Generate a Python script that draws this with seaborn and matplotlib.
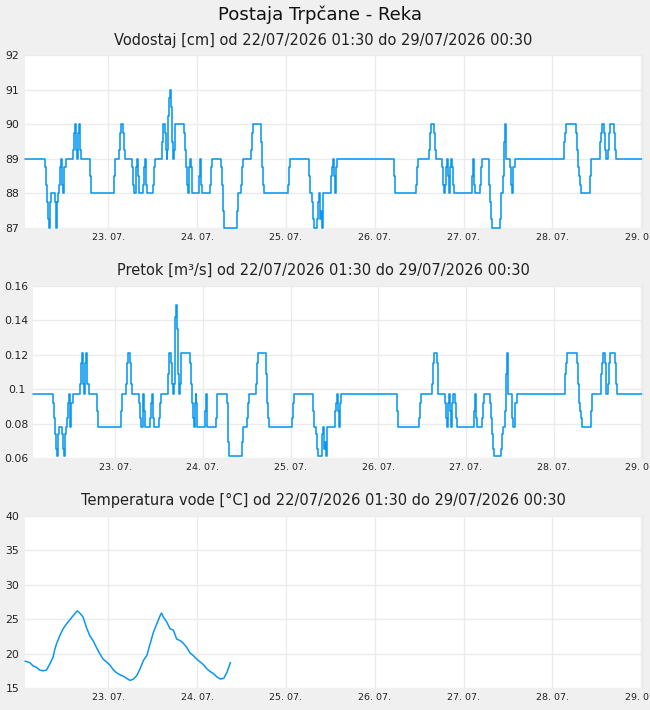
import numpy as np
import pandas as pd
import matplotlib
matplotlib.use("Agg")
import matplotlib.pyplot as plt
import matplotlib.dates as mdates
from matplotlib.ticker import FixedLocator, FuncFormatter
import seaborn as sns

# ---------------- data ----------------
start = pd.Timestamp("2026-07-22 01:30")
end = pd.Timestamp("2026-07-29 00:30")

# water level change points: hours after start, level in cm
level_hours = [0, 5.5, 5.75, 6.0, 6.25, 6.5, 6.75, 7.0, 8.0, 8.25, 8.5, 8.75, 9.0, 9.25, 9.5, 9.75,
               10.0, 10.25, 10.5, 11.0, 13.0, 13.25, 13.5, 13.75, 14.0, 14.25, 14.5, 14.75, 15.25,
               17.5, 17.75, 24.0, 24.25, 25.5, 25.75, 26.0, 26.5, 26.75, 27.0, 29.0, 29.25, 29.5,
               30.0, 30.25, 30.5, 30.75, 32.0, 32.25, 32.5, 32.75, 33.0, 34.5, 34.75, 35.0, 37.0,
               37.25, 37.75, 38.0, 38.25, 38.5, 38.75, 39.0, 39.25, 39.5, 39.75, 40.0, 40.25, 40.5,
               43.0, 43.25, 43.5, 43.75, 44.0, 44.25, 44.5, 44.75, 45.0, 47.0, 47.25, 47.5, 47.75,
               50.0, 50.25, 50.5, 53.0, 53.25, 53.5, 53.75, 57.25, 57.5, 58.5, 58.75, 59.0, 61.0,
               61.25, 61.5, 63.75, 64.0, 64.25, 64.5, 71.0, 71.25, 71.5, 76.75, 77.0, 77.5, 77.75,
               78.0, 79.0, 79.25, 79.5, 79.75, 80.0, 80.25, 80.5, 82.75, 83.0, 83.25, 83.5, 83.75,
               84.0, 84.25, 99.75, 100.0, 105.75, 106.0, 106.25, 109.25, 109.5, 109.75, 110.5,
               110.75, 111.0, 112.75, 113.0, 113.25, 113.5, 113.75, 114.0, 114.25, 114.5, 114.75,
               115.0, 115.5, 115.75, 116.0, 120.75, 121.0, 121.25, 121.5, 123.0, 123.25, 123.5,
               125.25, 125.5, 125.75, 126.0, 126.25, 128.25, 128.5, 128.75, 129.25, 129.5, 129.75,
               130.0, 131.0, 131.25, 131.5, 132.0, 132.5, 145.75, 146.0, 146.25, 149.0, 149.25,
               149.5, 149.75, 150.0, 150.25, 152.75, 153.0, 155.5, 155.75, 156.0, 156.5, 156.75,
               157.0, 157.5, 157.75, 158.0, 159.25, 159.5, 159.75, 167.0]
level_cm = [89, 88.75, 88.25, 87.75, 87.25, 87, 87.75, 88, 87.75, 87.25, 87, 87.75, 88, 88.25, 88.75, 89,
            88.25, 88, 88.75, 89, 89.25, 89.75, 90, 89.25, 89, 89.75, 90, 89.25, 89,
            88.5, 88, 88.5, 89, 89.25, 89.75, 90, 89.75, 89.25, 89, 88.75, 88.25, 88,
            88.75, 89, 88.5, 88, 88.25, 88.75, 89, 88.25, 88, 88.25, 88.75, 89, 89.5,
            90, 89.75, 89.25, 89, 89.25, 90.25, 90.75, 91, 90.5, 89.5, 89, 89.25, 90,
            89.75, 89.25, 88.75, 88.25, 88, 88.75, 89, 88.75, 88, 88.5, 89, 88.25, 88,
            88.25, 88.75, 89, 88.75, 88.25, 87.5, 87, 87.5, 88, 88.25, 88.75, 89, 89.25,
            89.75, 90, 89.5, 88.75, 88.25, 88, 88.25, 88.75, 89, 88.5, 88, 87.75, 87.25,
            87, 87.25, 87.75, 88, 87.25, 87.5, 87, 88, 88.5, 88.75, 89, 88.5, 88,
            88.75, 89, 88.5, 88, 88.25, 88.75, 89, 89.25, 89.75, 90, 89.75,
            89.25, 89, 88.75, 88.25, 88, 88.25, 88.75, 89, 88.5, 88, 88.75,
            89, 88.75, 88.25, 88, 88.5, 89, 88.25, 88, 88.25, 88.75, 89,
            88.75, 88.25, 87.75, 87.25, 87, 87.25, 87.75, 88, 88.5, 89.5, 90,
            89, 88.75, 88.25, 88, 88.75, 89, 89.5, 89.75, 90, 89.75, 89.25,
            88.75, 88.5, 88.25, 88, 88.5, 89, 89.5, 89.75, 90, 89.75, 89.25,
            89, 89.25, 89.75, 90, 89.75, 89.25, 89, 89]

# rating table (level cm -> discharge m3/s)
rating_level = [87, 87.25, 87.5, 87.75, 88, 88.25, 88.5, 88.75, 89, 89.25, 89.5, 89.75, 90,
                90.25, 90.5, 90.75, 91]
rating_flow = [0.061, 0.065, 0.0695, 0.074, 0.078, 0.083, 0.0875, 0.092, 0.097, 0.103, 0.109,
               0.115, 0.121, 0.128, 0.135, 0.142, 0.149]

# water temperature: hours after start, degrees C
temp_hours = [0, 1.3, 2.2, 3.1, 4.0, 4.9, 5.8, 6.7, 7.6, 8.0, 8.5, 9.4, 10.3, 11.2, 12.1, 13.0,
              14.1, 14.8, 15.7, 16.6, 17.5, 18.4, 19.3, 20.2, 21.1, 22.0, 23.0, 23.9, 24.8, 25.7,
              26.6, 27.5, 28.4, 29.3, 30.2, 31.1, 32.0, 32.9, 33.8, 34.7, 35.6, 36.5, 36.9, 37.4,
              38.3, 39.2, 40.1, 41.0, 41.9, 42.8, 43.7, 44.6, 45.5, 46.4, 47.3, 48.2, 49.1, 50.0,
              50.9, 51.9, 52.8, 53.7, 54.6, 55.5]
temp_c = [18.9, 18.7, 18.2, 18.0, 17.6, 17.5, 17.6, 18.5, 19.5, 20.5, 21.4, 22.6, 23.6, 24.3, 24.9, 25.5,
          26.2, 25.9, 25.3, 23.8, 22.6, 21.9, 20.9, 20.0, 19.2, 18.8, 18.3, 17.6, 17.2, 16.9,
          16.7, 16.4, 16.1, 16.3, 16.8, 17.8, 19.0, 19.7, 21.4, 23.1, 24.3, 25.5, 25.9, 25.3,
          24.6, 23.6, 23.4, 22.1, 21.9, 21.5, 20.9, 20.1, 19.7, 19.2, 18.8, 18.4, 17.8, 17.4,
          17.1, 16.6, 16.3, 16.4, 17.3, 18.7]

title = "Postaja Trpčane - Reka"
subtitles = ["Vodostaj [cm] od 22/07/2026 01:30 do 29/07/2026 00:30",
             "Pretok [m³/s] od 22/07/2026 01:30 do 29/07/2026 00:30",
             "Temperatura vode [°C] od 22/07/2026 01:30 do 29/07/2026 00:30"]
y_ticks = [[87, 88, 89, 90, 91, 92],
           [0.06, 0.08, 0.1, 0.12, 0.14, 0.16],
           [15, 20, 25, 30, 35, 40]]

# ---------------- tables ----------------
rating = dict(zip(rating_level, rating_flow))
df_level = pd.DataFrame({
    "time": [start + pd.Timedelta(hours=h) for h in level_hours],
    "level": level_cm,
})
df_level["flow"] = [rating[v] for v in df_level["level"]]
df_temp = pd.DataFrame({
    "time": [start + pd.Timedelta(hours=h) for h in temp_hours],
    "temp": temp_c,
})

# ---------------- style ----------------
sns.set_theme(style="white")
plt.rcParams["font.family"] = ["DejaVu Sans"]
BG = "#f0f0f0"
LINE = "#0997ef"
GRID = "#ebebeb"
W, H = 650, 710

fig = plt.figure(figsize=(W / 100, H / 100), dpi=100, facecolor=BG)

# (left px, right px, top px, bottom px)
boxes = [(25, 643, 55, 228), (33, 643, 286, 458), (25, 643, 516, 688)]
label_centers = [12.5, 16.5, 12.5]
sub_baselines = [45, 275, 505]

axes = []
for i, (l, r, t, b) in enumerate(boxes):
    ax = fig.add_axes([l / W, 1 - b / H, (r - l) / W, (b - t) / H])
    ax.set_facecolor("white")
    axes.append(ax)

sns.lineplot(data=df_level, x="time", y="level", ax=axes[0], color=LINE, lw=1.15,
             drawstyle="steps-post", estimator=None, clip_on=False)
sns.lineplot(data=df_level, x="time", y="flow", ax=axes[1], color=LINE, lw=1.15,
             drawstyle="steps-post", estimator=None, clip_on=False)
sns.lineplot(data=df_temp, x="time", y="temp", ax=axes[2], color=LINE, lw=1.1,
             estimator=None, clip_on=False)

for i, ax in enumerate(axes):
    l, r, t, b = boxes[i]
    ax.set_xlim(start, end)
    ax.set_ylim(y_ticks[i][0], y_ticks[i][-1])
    ax.yaxis.set_major_locator(FixedLocator(y_ticks[i]))
    ax.yaxis.set_major_formatter(FuncFormatter(lambda v, p: f"{v:g}"))
    ax.xaxis.set_major_locator(mdates.DayLocator())
    ax.xaxis.set_major_formatter(mdates.DateFormatter("%d. %m."))
    ax.set_xlabel("")
    ax.set_ylabel("")
    ax.grid(True, color=GRID, lw=1.0)
    ax.set_axisbelow(True)
    for s in ax.spines.values():
        s.set_visible(False)
    ax.spines["right"].set_visible(True)
    ax.spines["right"].set_color(GRID)
    offset_px = l - label_centers[i]
    ax.tick_params(axis="y", length=0, pad=offset_px * 0.72, labelsize=7.8, labelcolor="#222222")
    ax.tick_params(axis="x", length=0, pad=3.5, labelsize=6.8, labelcolor="#222222")
    for lab in ax.get_yticklabels():
        lab.set_horizontalalignment("center")
    fig.text(323 / W, 1 - sub_baselines[i] / H, subtitles[i], ha="center", va="baseline",
             fontsize=10.5, color="#222222")

fig.text(320 / W, 1 - 20 / H, title, ha="center", va="baseline", fontsize=13.1, color="#111111")

fig.savefig("out.png", dpi=100, facecolor=BG)
